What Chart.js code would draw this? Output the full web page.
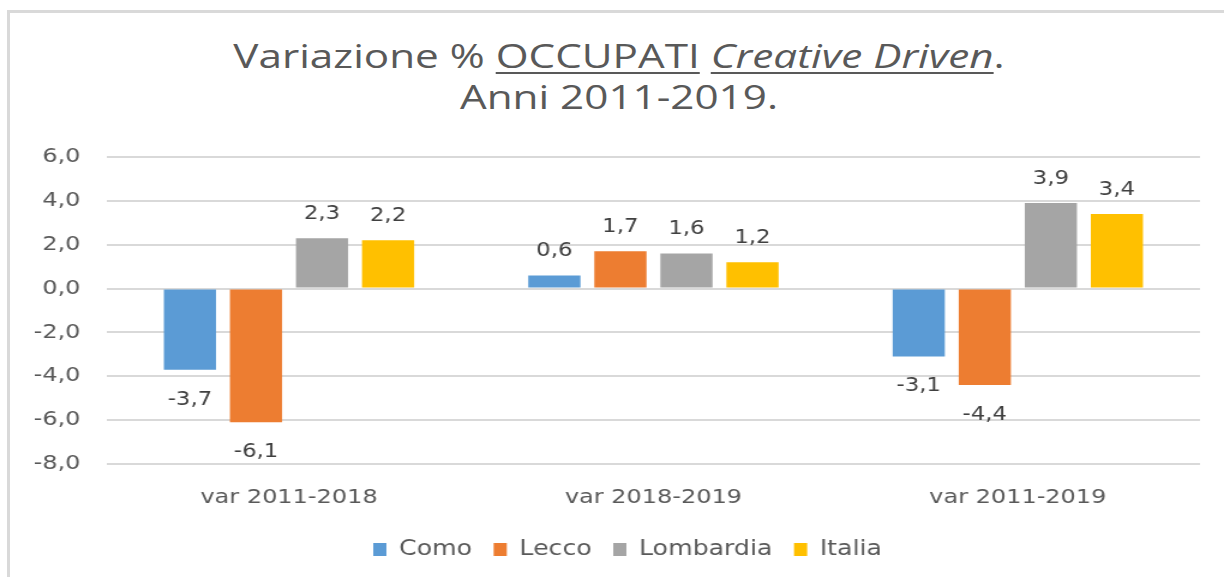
<!DOCTYPE html>
<html>
<head>
<meta charset="utf-8">
<script src="https://cdn.jsdelivr.net/npm/chart.js@4"></script>
<style>
  html, body { margin: 0; padding: 0; background: #fff; }
  #wrap { position: relative; width: 1224px; height: 577px; overflow: hidden; }
  #frame { position: absolute; left: 7px; top: 10px; width: 1230px; height: 580px;
           border-top: 3px solid #d9d9d9; border-left: 3px solid #d9d9d9; box-sizing: border-box; }
  /* l'originale è un'immagine allargata in orizzontale: la riproduco con scaleX */
  #titolo { position: absolute; left: 0; top: 35px; width: 1238px; text-align: center;
            font-family: 'Open Sans', sans-serif; font-size: 33px; line-height: 41px; color: #595959;
            transform: scaleX(1.28); transform-origin: 619px 0; }
  #titolo u { text-decoration-thickness: 2px; text-underline-offset: 4px; }
  #box { position: absolute; left: 0; top: 0; width: 1020px; height: 577px;
         transform: scaleX(1.2); transform-origin: 0 0; }
</style>
</head>
<body>
<div id="wrap">
  <div id="frame"></div>
  <div id="titolo">Variazione % <u>OCCUPATI</u> <u><i>Creative Driven</i></u>.<br>Anni 2011-2019.</div>
  <div id="box"><canvas id="grafico" width="1020" height="577"></canvas></div>
</div>
<script>
// dati
const periodi = ['var 2011-2018', 'var 2018-2019', 'var 2011-2019'];
const como = [-3.7, 0.6, -3.1];
const lecco = [-6.1, 1.7, -4.4];
const lombardia = [2.3, 1.6, 3.9];
const italia = [2.2, 1.2, 3.4];
const tickY = [-8, -6, -4, -2, 0, 2, 4, 6];

const GRIGIO = '#595959';
const fmt = v => v.toFixed(1).replace('.', ',');

// etichette dei valori sopra / sotto le barre
const etichette = {
  id: 'etichette',
  afterDatasetsDraw(chart) {
    const ctx = chart.ctx;
    ctx.save();
    ctx.font = '19px "DejaVu Sans"';
    ctx.fillStyle = '#404040';
    ctx.textAlign = 'center';
    ctx.textBaseline = 'middle';
    chart.data.datasets.forEach((ds, i) => {
      chart.getDatasetMeta(i).data.forEach((bar, j) => {
        const v = ds.data[j];
        const y = v >= 0 ? bar.y - 24 : bar.y + 30;
        ctx.fillText(fmt(v), bar.x, y);
      });
    });
    ctx.restore();
  }
};

// la legenda dell'originale è un po' spostata a destra
const spostaLegenda = {
  id: 'spostaLegenda',
  afterLayout(chart) {
    chart.legend.left += 19;
    chart.legend.right += 19;
  }
};

new Chart(document.getElementById('grafico'), {
  type: 'bar',
  data: {
    labels: periodi,
    datasets: [
      { label: 'Como', data: como, backgroundColor: '#5B9BD5' },
      { label: 'Lecco', data: lecco, backgroundColor: '#ED7D31' },
      { label: 'Lombardia', data: lombardia, backgroundColor: '#A5A5A5' },
      { label: 'Italia', data: italia, backgroundColor: '#FFC000' }
    ]
  },
  options: {
    responsive: false,
    animation: false,
    devicePixelRatio: 1,
    categoryPercentage: 0.725,
    barPercentage: 0.79,
    layout: { padding: { left: 8, right: 20, top: 157, bottom: 7 } },
    plugins: {
      title: { display: false },
      tooltip: { enabled: false },
      legend: {
        position: 'bottom',
        labels: {
          boxWidth: 11, boxHeight: 13, padding: 18,
          color: GRIGIO,
          font: { family: '"DejaVu Sans"', size: 21 }
        }
      }
    },
    scales: {
      x: {
        grid: { display: false },
        border: { display: false },
        ticks: { color: GRIGIO, padding: 14, font: { family: '"DejaVu Sans"', size: 20 } },
        afterFit: s => { s.height = 57; }
      },
      y: {
        min: -8, max: 6,
        afterBuildTicks: s => { s.ticks = tickY.map(v => ({ value: v })); },
        grid: { color: '#d9d9d9', lineWidth: 2, drawTicks: false },
        border: { display: false },
        ticks: { color: GRIGIO, padding: 22, font: { family: '"DejaVu Sans"', size: 20 }, callback: v => fmt(v) },
        afterFit: s => { s.width = 81; }
      }
    }
  },
  plugins: [etichette, spostaLegenda]
});
</script>
</body>
</html>
